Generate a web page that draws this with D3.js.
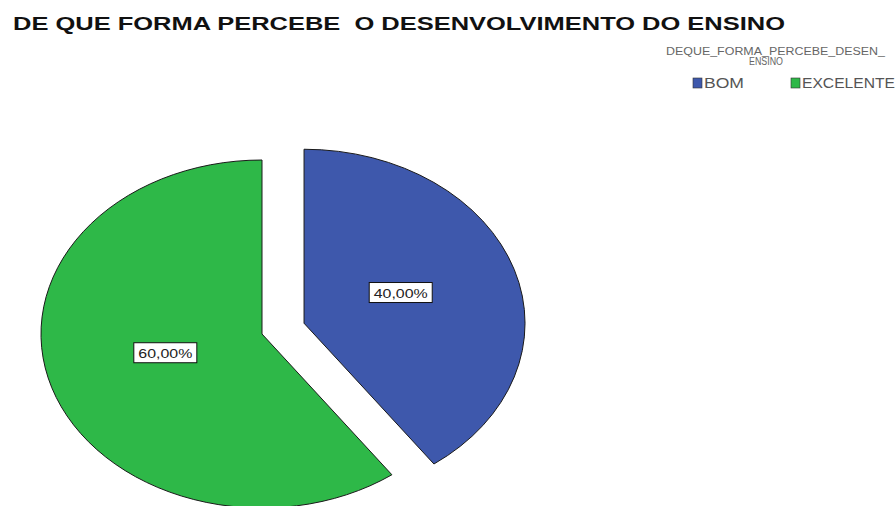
<!DOCTYPE html>
<html>
<head>
<meta charset="utf-8">
<script src="https://cdn.jsdelivr.net/npm/d3@7"></script>
<style>
  html, body { margin: 0; padding: 0; background: #ffffff; }
  svg { display: block; font-family: "Liberation Sans", Arial, sans-serif; }
  text { white-space: pre; }
</style>
</head>
<body>
<svg id="chart" width="896" height="506"></svg>
<script>
// Responses: how the development of teaching is perceived
const categories = ["BOM", "EXCELENTE"];
const percentages = [40.00, 60.00];
const sliceColors = ["#3E58AC", "#2EB848"];
const chartTitle = "DE QUE FORMA PERCEBE  O DESENVOLVIMENTO DO ENSINO";
const legendTitleLines = ["DEQUE_FORMA_PERCEBE_DESEN_", "ENSINO"];
const explodedCategory = "BOM";

const svg = d3.select("#chart");

// Title
svg.append("text")
  .attr("x", 13).attr("y", 30)
  .attr("font-size", 18).attr("font-weight", "bold")
  .attr("fill", "#111")
  .attr("textLength", 772).attr("lengthAdjust", "spacingAndGlyphs")
  .text(chartTitle);

// Legend
const lg = svg.append("g");
lg.append("text")
  .attr("x", 666).attr("y", 55)
  .attr("font-size", 10).attr("fill", "#666")
  .attr("textLength", 219).attr("lengthAdjust", "spacingAndGlyphs")
  .text(legendTitleLines[0]);
lg.append("text")
  .attr("x", 766).attr("y", 65)
  .attr("text-anchor", "middle")
  .attr("font-size", 10).attr("fill", "#666")
  .attr("textLength", 34).attr("lengthAdjust", "spacingAndGlyphs")
  .text(legendTitleLines[1]);

const legendX = d3.scaleOrdinal().domain(categories).range([693, 791]);
const legendTextLen = d3.scaleOrdinal().domain(categories).range([40, 93]);
const color = d3.scaleOrdinal().domain(categories).range(sliceColors);

const items = lg.selectAll("g.item").data(categories).enter().append("g").attr("class", "item");
items.append("rect")
  .attr("x", d => legendX(d)).attr("y", 78)
  .attr("width", 9).attr("height", 10)
  .attr("fill", d => color(d))
  .attr("stroke", "#333").attr("stroke-width", 0.6);
items.append("text")
  .attr("x", d => legendX(d) + 11).attr("y", 88)
  .attr("font-size", 14).attr("fill", "#555")
  .attr("textLength", d => legendTextLen(d)).attr("lengthAdjust", "spacingAndGlyphs")
  .text(d => d);

// Pie (elliptical: drawn on a circle of radius ry, stretched horizontally)
const cx = 262, cy = 334, rx = 221, ry = 174;
const sx = rx / ry;
const explode = 0.2 * ry;
const labelFrac = 0.46;

const data = categories.map((c, i) => ({ category: c, value: percentages[i] }));
const pie = d3.pie().value(d => d.value).sort(null).startAngle(0).endAngle(2 * Math.PI);
const arcs = pie(data);
const arc = d3.arc().innerRadius(0).outerRadius(ry);

const pieG = svg.append("g").attr("transform", `translate(${cx},${cy})`);

function offset(a, dist) {
  const mid = (a.startAngle + a.endAngle) / 2;
  return [Math.sin(mid) * dist * sx, -Math.cos(mid) * dist];
}

arcs.forEach(a => {
  const [ox, oy] = a.data.category === explodedCategory ? offset(a, explode) : [0, 0];
  pieG.append("path")
    .attr("d", arc(a))
    .attr("transform", `translate(${ox},${oy}) scale(${sx},1)`)
    .attr("fill", color(a.data.category))
    .attr("stroke", "#1a1a1a")
    .attr("stroke-width", 1)
    .attr("vector-effect", "non-scaling-stroke");
});

// Value labels in white boxes
const fmt = v => d3.format(".2f")(v).replace(".", ",") + "%";
arcs.forEach(a => {
  const [ox, oy] = a.data.category === explodedCategory ? offset(a, explode) : [0, 0];
  const [lx, ly] = offset(a, ry * labelFrac);
  const x = ox + lx, y = oy + ly - 6;
  const w = 63, h = 20;
  const g = pieG.append("g").attr("transform", `translate(${x},${y})`);
  g.append("rect")
    .attr("x", -w / 2).attr("y", -h / 2)
    .attr("width", w).attr("height", h)
    .attr("fill", "#fff").attr("stroke", "#111").attr("stroke-width", 1);
  g.append("text")
    .attr("x", 0).attr("y", 5)
    .attr("text-anchor", "middle")
    .attr("font-size", 13).attr("fill", "#222")
    .attr("textLength", 54).attr("lengthAdjust", "spacingAndGlyphs")
    .text(fmt(a.data.value));
});
</script>
</body>
</html>
